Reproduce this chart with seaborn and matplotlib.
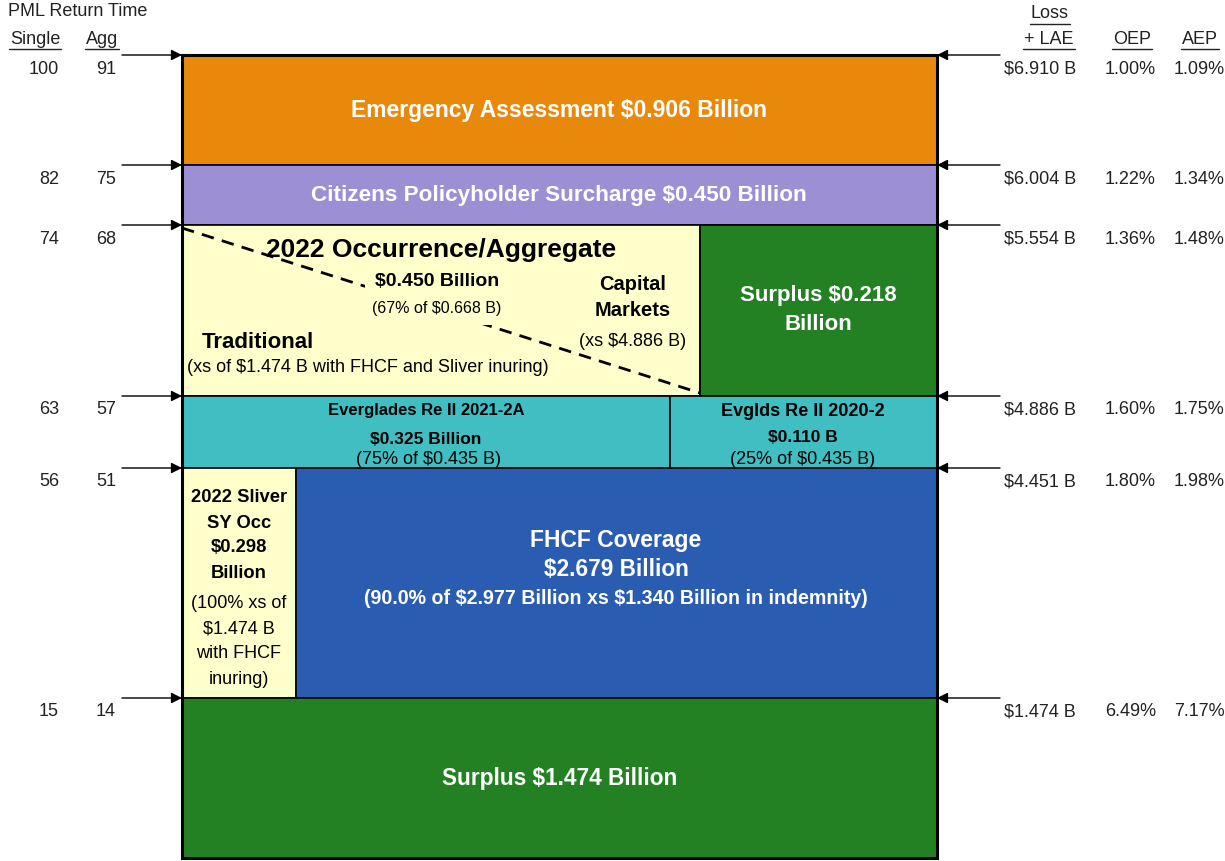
import matplotlib
matplotlib.use("Agg")
import matplotlib.pyplot as plt
import seaborn as sns

# Return-time and attachment data at each layer boundary (top to bottom)
single_rt = [100, 82, 74, 63, 56, 15]
agg_rt = [91, 75, 68, 57, 51, 14]
loss_lae = [6.910, 6.004, 5.554, 4.886, 4.451, 1.474]
oep = [1.00, 1.22, 1.36, 1.60, 1.80, 6.49]
aep = [1.09, 1.34, 1.48, 1.75, 1.98, 7.17]

# Layer names / amounts
emergency_amt = 0.906
surcharge_amt = 0.450
occ_agg_amt = 0.450
occ_agg_share = 67
occ_agg_limit = 0.668
surplus_top_amt = 0.218
evg_2021_amt = 0.325
evg_2021_share = 75
evg_2020_amt = 0.110
evg_2020_share = 25
evg_limit = 0.435
sliver_amt = 0.298
fhcf_amt = 2.679
fhcf_pct = 90.0
fhcf_limit = 2.977
fhcf_retention = 1.340
surplus_bottom_amt = 1.474

# layout (schematic, figure pixel units)
band_edges = [55, 165, 225, 396, 468, 698, 858]
tower_left, tower_right = 182, 937
occ_split = 700
evg_split = 670
sliver_split = 296

orange = "#E8890C"
purple = "#9D8FD4"
yellow = "#FFFFCC"
green = "#238124"
teal = "#40BEC1"
blue = "#2A5DB2"

sns.set_theme(style="white")
plt.rcParams["font.family"] = ["Liberation Sans", "DejaVu Sans"]
plt.rcParams["text.parse_math"] = False

fig = plt.figure(figsize=(12.25, 8.61), dpi=100)
ax = fig.add_axes([0, 0, 1, 1])
ax.set_xlim(0, 1225)
ax.set_ylim(861, 0)
ax.axis("off")

e = band_edges
blocks = [
    (tower_left, tower_right, e[0], e[1], orange),
    (tower_left, tower_right, e[1], e[2], purple),
    (tower_left, occ_split, e[2], e[3], yellow),
    (occ_split, tower_right, e[2], e[3], green),
    (tower_left, evg_split, e[3], e[4], teal),
    (evg_split, tower_right, e[3], e[4], teal),
    (tower_left, sliver_split, e[4], e[5], yellow),
    (sliver_split, tower_right, e[4], e[5], blue),
    (tower_left, tower_right, e[5], e[6], green),
]
for x0, x1, y0, y1, c in blocks:
    ax.bar(x0, y1 - y0, width=x1 - x0, bottom=y0, align="edge",
           color=c, edgecolor="black", linewidth=1.2, zorder=1)
# outer border
ax.bar(tower_left, e[6] - e[0], width=tower_right - tower_left, bottom=e[0],
       align="edge", fill=False, edgecolor="black", linewidth=2.2, zorder=4)

# dashed divider traditional / capital markets
ax.plot([tower_left, occ_split], [e[2] + 3, e[3] - 3], color="black",
        lw=2, ls=(0, (4.5, 3)), zorder=2)

side_fs = 13
ink = "#222222"
for i, y in enumerate(band_edges[:-1]):
    ax.annotate("", xy=(tower_left, y), xytext=(122, y),
                arrowprops=dict(arrowstyle="-|>", color="black", lw=1,
                                mutation_scale=16, shrinkA=0, shrinkB=0))
    ax.annotate("", xy=(tower_right, y), xytext=(1000, y),
                arrowprops=dict(arrowstyle="-|>", color="black", lw=1,
                                mutation_scale=16, shrinkA=0, shrinkB=0))
    ty = y + 14
    ax.text(59, ty, f"{single_rt[i]}", ha="right", va="center", fontsize=side_fs, color=ink)
    ax.text(116, ty, f"{agg_rt[i]}", ha="right", va="center", fontsize=side_fs, color=ink)
    ax.text(1004, ty, f"${loss_lae[i]:.3f} B", ha="left", va="center", fontsize=side_fs, color=ink)
    ax.text(1156, ty, f"{oep[i]:.2f}%", ha="right", va="center", fontsize=side_fs, color=ink)
    ax.text(1174, ty, f"{aep[i]:.2f}%", ha="left", va="center", fontsize=side_fs, color=ink)

# headers
ax.text(8, 11, "PML Return Time", ha="left", va="center", fontsize=side_fs, color=ink)
headers = [
    ax.text(10, 39, "Single", ha="left", va="center", fontsize=side_fs, color=ink),
    ax.text(86, 39, "Agg", ha="left", va="center", fontsize=side_fs, color=ink),
    ax.text(1050, 14, "Loss", ha="center", va="center", fontsize=side_fs, color=ink),
    ax.text(1049, 39, "+ LAE", ha="center", va="center", fontsize=side_fs, color=ink),
    ax.text(1132, 39, "OEP", ha="center", va="center", fontsize=side_fs, color=ink),
    ax.text(1200, 39, "AEP", ha="center", va="center", fontsize=side_fs, color=ink),
]
fig.canvas.draw()
renderer = fig.canvas.get_renderer()
inv = ax.transData.inverted()
for t in headers:
    bb = t.get_window_extent(renderer)
    (x0, y0), (x1, y1) = inv.transform([(bb.x0, bb.y0), (bb.x1, bb.y1)])
    ax.plot([x0 - 1, x1 + 1], [y0 + 1, y0 + 1], color=ink, lw=1)


def label(x, y, s, fs, color="black", bold=True, **kw):
    ax.text(x, y, s, ha="center", va="center", fontsize=fs, color=color,
            fontweight="bold" if bold else "normal", zorder=5, **kw)


label(559, 111, f"Emergency Assessment ${emergency_amt:.3f} Billion", 16.5, "white")
label(559, 196, f"Citizens Policyholder Surcharge ${surcharge_amt:.3f} Billion", 16.2, "white")

label(441, 250, "2022 Occurrence/Aggregate", 19)
patch = dict(facecolor=yellow, edgecolor="none", pad=7)
label(437, 281, f"${occ_agg_amt:.3f} Billion", 14, bbox=patch)
label(437, 308, f"({occ_agg_share}% of ${occ_agg_limit:.3f} B)", 11.5, bold=False, bbox=patch)
label(633, 285, "Capital", 14.5)
label(633, 311, "Markets", 14.5)
label(633, 341, "(xs $4.886 B)", 13, bold=False)
label(258, 343, "Traditional", 16)
label(368, 368, "(xs of $1.474 B with FHCF and Sliver inuring)", 13, bold=False)

label(818, 296, f"Surplus ${surplus_top_amt:.3f}", 16, "white")
label(818, 325, "Billion", 16, "white")

label(426, 411, "Everglades Re II 2021-2A", 12)
label(426, 439, f"${evg_2021_amt:.3f} Billion", 12.5)
label(429, 459, f"({evg_2021_share}% of ${evg_limit:.3f} B)", 13, bold=False)
label(803, 411, "Evglds Re II 2020-2", 13)
label(803, 437, f"${evg_2020_amt:.3f} B", 12.5)
label(803, 460, f"({evg_2020_share}% of ${evg_limit:.3f} B)", 13, bold=False)

for k, s in enumerate(["2022 Sliver", "SY Occ", f"${sliver_amt:.3f}", "Billion"]):
    label(239, 498 + 25 * k, s, 13.2)
for k, s in enumerate(["(100% xs of", "$1.474 B", "with FHCF", "inuring)"]):
    label(239, 604 + 25 * k, s, 13, bold=False)

label(616, 541, "FHCF Coverage", 16.5, "white")
label(616, 569, f"${fhcf_amt:.3f} Billion", 16.3, "white")
label(616, 598, f"({fhcf_pct:.1f}% of ${fhcf_limit:.3f} Billion xs ${fhcf_retention:.3f} Billion in indemnity)",
      14.1, "white")

label(560, 779, f"Surplus ${surplus_bottom_amt:.3f} Billion", 16.3, "white")

fig.savefig("out.png", dpi=100)
